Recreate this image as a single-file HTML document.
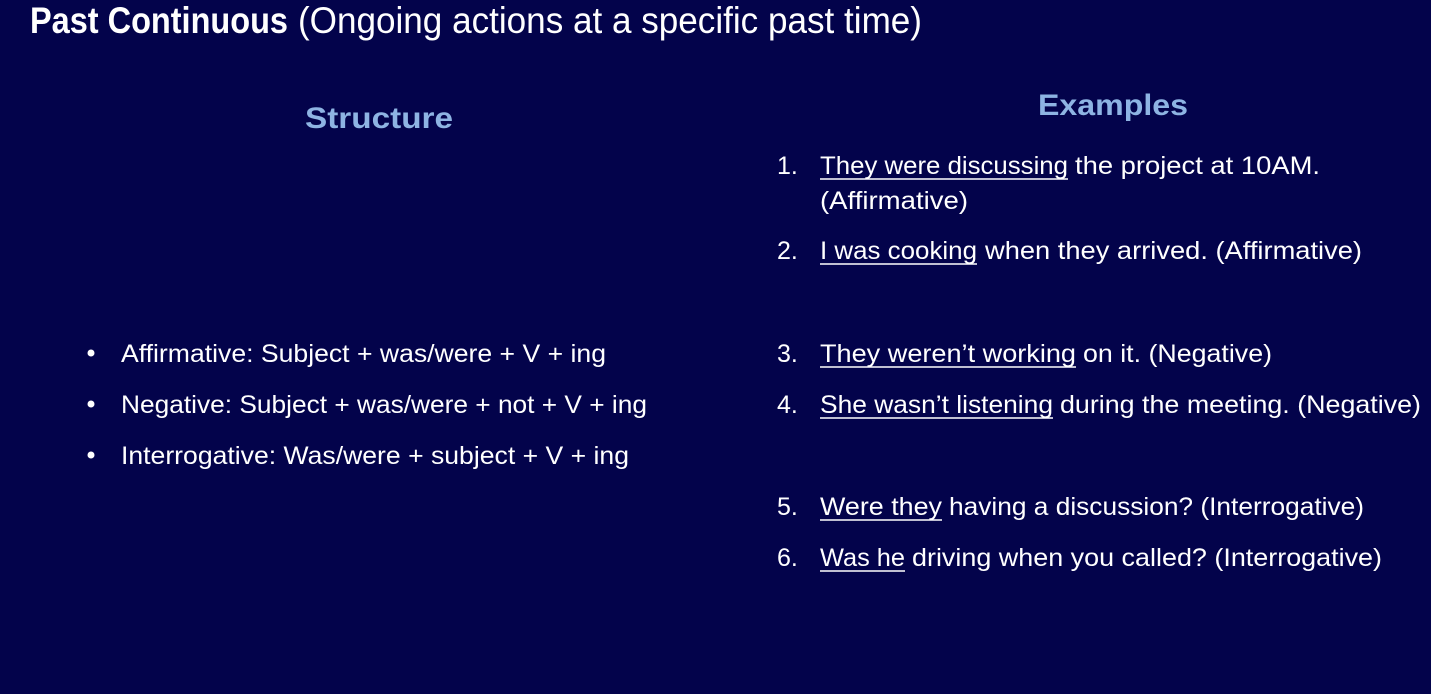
<!DOCTYPE html>
<html><head><meta charset="utf-8"><style>
html,body{margin:0;padding:0;background:#03034b;}
svg{display:block}
text{font-family:"Liberation Sans",sans-serif;fill:#fff;}
</style></head><body>
<svg width="1431" height="694" viewBox="0 0 1431 694" xmlns="http://www.w3.org/2000/svg">
<rect width="1431" height="694" fill="#03034b"/>
<text x="30" y="33" font-size="37" font-weight="bold" textLength="258" lengthAdjust="spacingAndGlyphs">Past Continuous</text>
<text x="298" y="33" font-size="37" textLength="624" lengthAdjust="spacingAndGlyphs">(Ongoing actions at a specific past time)</text>
<text x="305" y="128" font-size="30" font-weight="bold" style="fill:#8eb4e3" textLength="148" lengthAdjust="spacingAndGlyphs">Structure</text>
<text x="1038" y="115" font-size="30" font-weight="bold" style="fill:#8eb4e3" textLength="150" lengthAdjust="spacingAndGlyphs">Examples</text>

<g font-size="25">
<circle cx="91" cy="353" r="3.5" fill="#fff"/>
<circle cx="91" cy="404" r="3.5" fill="#fff"/>
<circle cx="91" cy="455" r="3.5" fill="#fff"/>
<text x="121" y="362" textLength="485" lengthAdjust="spacingAndGlyphs">Affirmative: Subject + was/were + V + ing</text>
<text x="121" y="413" textLength="526" lengthAdjust="spacingAndGlyphs">Negative: Subject + was/were + not + V + ing</text>
<text x="121" y="464" textLength="508" lengthAdjust="spacingAndGlyphs">Interrogative: Was/were + subject + V + ing</text>

<text x="777" y="174">1.</text>
<text x="777" y="259">2.</text>
<text x="777" y="362">3.</text>
<text x="777" y="413">4.</text>
<text x="777" y="515">5.</text>
<text x="777" y="566">6.</text>

<text x="820" y="174" textLength="248" lengthAdjust="spacingAndGlyphs">They were discussing</text>
<text x="1075" y="174" textLength="245" lengthAdjust="spacingAndGlyphs">the project at 10AM.</text>
<text x="820" y="209" textLength="148" lengthAdjust="spacingAndGlyphs">(Affirmative)</text>
<text x="820" y="259" textLength="157" lengthAdjust="spacingAndGlyphs">I was cooking</text>
<text x="985" y="259" textLength="377" lengthAdjust="spacingAndGlyphs">when they arrived. (Affirmative)</text>
<text x="820" y="362" textLength="256" lengthAdjust="spacingAndGlyphs">They weren’t working</text>
<text x="1083" y="362" textLength="189" lengthAdjust="spacingAndGlyphs">on it. (Negative)</text>
<text x="820" y="413" textLength="233" lengthAdjust="spacingAndGlyphs">She wasn’t listening</text>
<text x="1060" y="413" textLength="361" lengthAdjust="spacingAndGlyphs">during the meeting. (Negative)</text>
<text x="820" y="515" textLength="122" lengthAdjust="spacingAndGlyphs">Were they</text>
<text x="949" y="515" textLength="415" lengthAdjust="spacingAndGlyphs">having a discussion? (Interrogative)</text>
<text x="820" y="566" textLength="85" lengthAdjust="spacingAndGlyphs">Was he</text>
<text x="912" y="566" textLength="470" lengthAdjust="spacingAndGlyphs">driving when you called? (Interrogative)</text>
</g>
<g stroke="#fff" stroke-width="1.6">
<line x1="820" y1="179" x2="1068" y2="179"/>
<line x1="820" y1="264" x2="977" y2="264"/>
<line x1="820" y1="367" x2="1076" y2="367"/>
<line x1="820" y1="418" x2="1053" y2="418"/>
<line x1="820" y1="520" x2="942" y2="520"/>
<line x1="820" y1="571" x2="905" y2="571"/>
</g>
</svg>
</body></html>
